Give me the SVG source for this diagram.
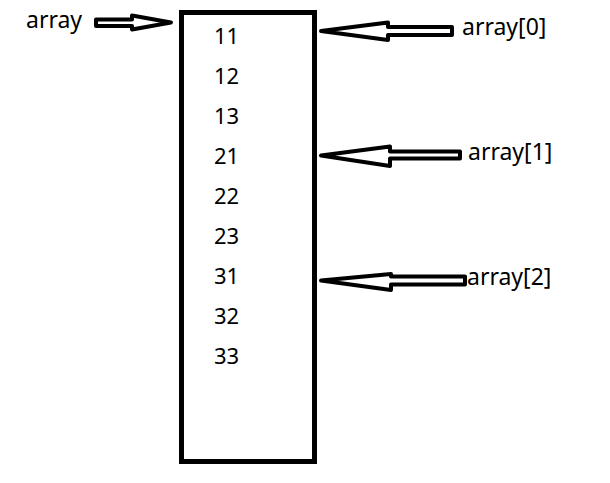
<svg xmlns="http://www.w3.org/2000/svg" width="610" height="483" viewBox="0 0 610 483">
<style>
.t{font-family:"Noto Sans","Open Sans","DejaVu Sans",sans-serif;font-size:22px;fill:#000}
.l{font-size:23px}
.ar{fill:#fff;stroke:#000;stroke-width:4;stroke-linejoin:round}
.box{fill:#fff;stroke:#000;stroke-width:5}
</style>
<rect width="610" height="483" fill="#fff"/>
<g id="array-box">
<rect class="box" x="181.5" y="12.5" width="133" height="449"/>
<text class="t" x="214" y="44">11</text>
<text class="t" x="214" y="84">12</text>
<text class="t" x="214" y="124">13</text>
<text class="t" x="214" y="164">21</text>
<text class="t" x="214" y="204">22</text>
<text class="t" x="214" y="244">23</text>
<text class="t" x="214" y="284">31</text>
<text class="t" x="214" y="324">32</text>
<text class="t" x="214" y="364">33</text>
</g>
<g id="label-array"><text class="t l" x="26" y="28">array</text></g>
<g id="label-array0"><text class="t l" x="462" y="34.5">array[0]</text></g>
<g id="label-array1"><text class="t l" x="468" y="159.5">array[1]</text></g>
<g id="label-array2"><text class="t l" x="467" y="285">array[2]</text></g>
<g id="connectors">
<polygon class="ar" points="96,19.5 132,19.5 132,15.5 171,22.5 132,29.5 132,26 96,26"/>
<polygon class="ar" points="452,27 388,27 388,22.5 321,31 388,40 388,35 452,35"/>
<polygon class="ar" points="460,151.5 390,151.5 390,146.5 321,155.5 390,166 390,158.5 460,158.5"/>
<polygon class="ar" points="465,276.5 391,276.5 391,274 321,280.5 391,290 391,284.5 465,284.5"/>
</g>
</svg>
